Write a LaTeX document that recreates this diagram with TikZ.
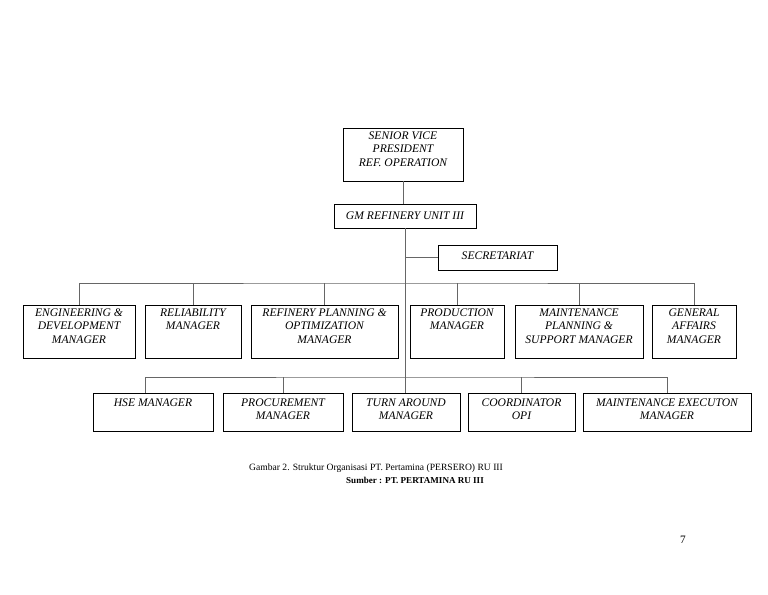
\documentclass[tikz,border=0pt]{standalone}
\usepackage{fontspec}
\setmainfont{Liberation Serif}
\usepackage{tikz}
\usetikzlibrary{fit}

\tikzset{
	unitbox/.style={draw, line width=0.6pt, inner sep=0pt},
	unittext/.style={anchor=north, align=center, inner sep=3pt, font=\itshape\fontsize{8.7}{10}\selectfont},
	link/.style={draw=black!60, line width=0.5pt}
}
% box by its corners (pixels), text at the top, optional drop of the text
\newcommand{\orgunit}[7][0]{%
	\node[unitbox, fit={(#3,#4)(#5,#6)}](#2){};
	\node[unittext, yshift=-#1pt](#2-t) at (#2.north) {#7};
}

\begin{document}
\begin{tikzpicture}[x=0.75pt, y=-0.75pt]
		\useasboundingbox (0,0) rectangle (768,594);
		\orgunit{svp}{343}{128}{463}{181}{SENIOR VICE\\PRESIDENT\\REF. OPERATION}
		\orgunit[3]{gm}{334}{204}{476}{228}{GM REFINERY UNIT III}
		\orgunit[2]{sec}{438}{245}{557}{270}{SECRETARIAT}
		\orgunit{eng}{23}{305}{135}{358}{ENGINEERING \&\\DEVELOPMENT\\MANAGER}
		\orgunit{rel}{145}{305}{241}{358}{RELIABILITY\\MANAGER}
		\orgunit{rpo}{251}{305}{398}{358}{REFINERY PLANNING \&\\OPTIMIZATION\\MANAGER}
		\orgunit{prod}{410}{305}{504}{358}{PRODUCTION\\MANAGER}
		\orgunit{mps}{515}{305}{643}{358}{MAINTENANCE\\PLANNING \&\\SUPPORT MANAGER}
		\orgunit{ga}{652}{305}{736}{358}{GENERAL\\AFFAIRS\\MANAGER}
		\orgunit[1.5]{hse}{93}{393}{213}{431}{HSE MANAGER}
		\orgunit[1.5]{proc}{223}{393}{343}{431}{PROCUREMENT\\MANAGER}
		\orgunit[1.5]{ta}{352}{393}{460}{431}{TURN AROUND\\MANAGER}
		\orgunit[1.5]{opi}{468}{393}{575}{431}{COORDINATOR\\OPI}
		\orgunit[1.5]{mex}{583}{393}{751}{431}{MAINTENANCE EXECUTON\\MANAGER}
		% trunk and secretariat
		\draw[link] (svp.south) -- (svp.south |- gm.north);
		\draw[link] (gm.south) -- (gm.south |- ta.north);
		\draw[link] (gm.south |- sec.west) -- (sec.west);
		% managers, first row
		\coordinate (busa) at (404,283);
		\draw[link] (eng.north) |- (busa) -| (ga.north);
		\foreach \un in {rel,rpo,prod,mps}
				\draw[link] (\un.north) -- (\un.north |- busa);
		% managers, second row
		\coordinate (busb) at (404,377);
		\draw[link] ([xshift=-6pt]hse.north) |- (busb) -| (mex.north);
		\foreach \un in {proc,opi}
				\draw[link] (\un.north) -- (\un.north |- busb);
		% caption
		\node[font=\fontsize{7.2}{9}\selectfont](cap) at (376,468) {Gambar 2. Struktur Organisasi PT. Pertamina (PERSERO) RU III};
		\node[font=\bfseries\fontsize{6.8}{8}\selectfont](src) at (415,480) {Sumber : PT. PERTAMINA RU III};
		\node[font=\fontsize{8.5}{10}\selectfont](page) at (683,540) {7};
\end{tikzpicture}
\end{document}
